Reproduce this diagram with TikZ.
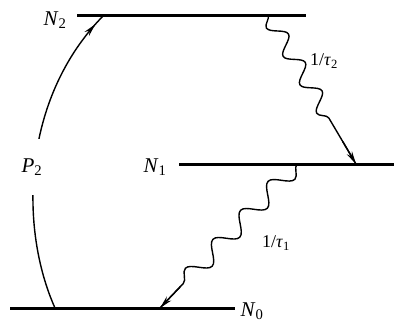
\documentclass[tikz,border=0pt]{standalone}
\usepackage{fontspec}
\setmainfont{Liberation Serif}
\usetikzlibrary{arrows.meta,decorations.pathmorphing,decorations.markings,calc}
\begin{document}
\begin{tikzpicture}[x=1pt,y=-1pt,
  level/.style={line width=3pt},
  lab/.style={inner sep=0pt,font=\fontsize{21}{21}\selectfont},
  ratelab/.style={inner sep=0pt,font=\fontsize{18}{18}\selectfont},
  wline/.style={line width=1.4pt},
  tip/.style={-{Stealth[length=13pt,width=6pt]}}]
\useasboundingbox (0,0) rectangle (394,322);
% levels
\coordinate (n2l) at (77,15);  \coordinate (n2r) at (306,15);
\coordinate (n1l) at (179,164); \coordinate (n1r) at (394,164);
\coordinate (n0l) at (10,308); \coordinate (n0r) at (235,308);
\draw[level] (n2l) -- (n2r);
\draw[level] (n1l) -- (n1r);
\draw[level] (n0l) -- (n0r);
\node[lab] (N2) at (55,20) {\textit{N}\textsubscript{2}};
\node[lab] (N1) at (155,167) {\textit{N}\textsubscript{1}};
\node[lab] (N0) at (252,311) {\textit{N}\textsubscript{0}};
% pump arc
\coordinate (pa) at (55,308);
\coordinate (pb) at (104,15);
\draw[wline,decoration={markings,mark=at position 0.96 with {\arrow{Stealth[length=13pt,width=6pt]}}},postaction={decorate}]
  (pa) .. controls (20,230) and (20,100) .. (pb);
\node[lab,fill=white,minimum width=30pt,minimum height=56pt] (P2) at (32,167) {\textit{P}\textsubscript{2}};
% decay 2 -> 1
\coordinate (a2) at (268,15);
\coordinate (b2) at (356,164);
\draw[wline,decorate,decoration={snake,segment length=33pt,amplitude=8pt,mirror,post length=40pt}] (a2) -- (b2);
\draw[wline,tip] ($(a2)!0.85!(b2)$) -- (b2);
\node[ratelab] (t2) at (324,61) {1/\textit{τ}\textsubscript{2}};
% decay 1 -> 0
\coordinate (a1) at (297,164);
\coordinate (b1) at (160,308);
\draw[wline,decorate,decoration={snake,segment length=40pt,amplitude=9pt,post length=30pt}] (a1) -- (b1);
\draw[wline,tip] ($(a1)!0.85!(b1)$) -- (b1);
\node[ratelab] (t1) at (276,243) {1/\textit{τ}\textsubscript{1}};
\end{tikzpicture}
\end{document}
